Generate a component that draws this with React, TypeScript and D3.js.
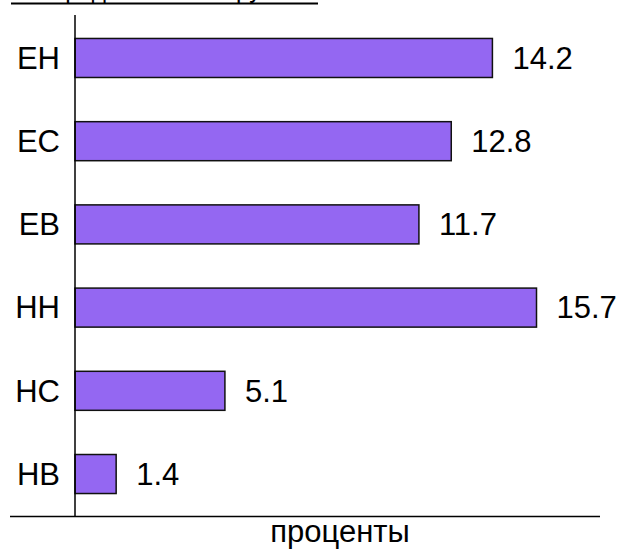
import React, { useEffect, useRef } from "react";
import * as d3 from "d3";

const categories = ["ЕН", "ЕС", "ЕВ", "НН", "НС", "НВ"];
const values = [14.2, 12.8, 11.7, 15.7, 5.1, 1.4];
const valueLabels = ["14.2", "12.8", "11.7", "15.7", "5.1", "1.4"];
const titleText = "Распределение по группам";
const xTitle = "проценты";

export default function App() {
  const ref = useRef<SVGSVGElement>(null);

  useEffect(() => {
    const width = 618;
    const height = 549;
    const svg = d3.select(ref.current);
    svg.selectAll("*").remove();
    svg.attr("width", width).attr("height", height);

    const font = "Liberation Sans, Arial, sans-serif";
    const fs = "31px";
    const x = d3.scaleLinear().domain([0, 17.86]).range([75, 600]);
    const y = d3
      .scaleBand<string>()
      .domain(categories)
      .range([16, 516])
      .paddingInner(0.531)
      .paddingOuter(0.27);

    // title, cut off at the top edge like in the source image
    svg
      .append("text")
      .attr("x", 11)
      .attr("y", -3)
      .attr("textLength", 307)
      .attr("lengthAdjust", "spacingAndGlyphs")
      .style("font-family", font)
      .style("font-size", "28px")
      .attr("fill", "#000")
      .text(titleText);
    svg
      .append("line")
      .attr("x1", 11)
      .attr("x2", 318)
      .attr("y1", 3.5)
      .attr("y2", 3.5)
      .attr("stroke", "#000")
      .attr("stroke-width", 2);

    // bars
    svg
      .selectAll(".bar")
      .data(values)
      .enter()
      .append("rect")
      .attr("x", x(0))
      .attr("y", (_, i) => y(categories[i]) ?? 0)
      .attr("width", (d) => x(d) - x(0))
      .attr("height", y.bandwidth())
      .attr("fill", "#9467f2")
      .attr("stroke", "#111")
      .attr("stroke-width", 1.5);

    // value labels
    svg
      .selectAll(".val")
      .data(values)
      .enter()
      .append("text")
      .attr("x", (d) => x(d) + 20)
      .attr("y", (_, i) => (y(categories[i]) ?? 0) + y.bandwidth() / 2)
      .attr("dy", "0.35em")
      .style("font-family", font)
      .style("font-size", fs)
      .attr("fill", "#000")
      .text((_, i) => valueLabels[i]);

    // category labels
    svg
      .selectAll(".cat")
      .data(categories)
      .enter()
      .append("text")
      .attr("x", 60)
      .attr("y", (d) => (y(d) ?? 0) + y.bandwidth() / 2)
      .attr("dy", "0.35em")
      .attr("text-anchor", "end")
      .style("font-family", font)
      .style("font-size", fs)
      .attr("fill", "#000")
      .text((d) => d);

    // axes
    svg
      .append("line")
      .attr("x1", x(0))
      .attr("x2", x(0))
      .attr("y1", 15)
      .attr("y2", 517)
      .attr("stroke", "#000")
      .attr("stroke-width", 1.5);
    svg
      .append("line")
      .attr("x1", 10)
      .attr("x2", 600)
      .attr("y1", 516.5)
      .attr("y2", 516.5)
      .attr("stroke", "#000")
      .attr("stroke-width", 1.5);

    svg
      .append("text")
      .attr("x", 340)
      .attr("y", 542)
      .attr("text-anchor", "middle")
      .style("font-family", font)
      .style("font-size", fs)
      .attr("fill", "#000")
      .text(xTitle);
  }, []);

  return (
    <div style={{ position: "absolute", left: 0, top: 0, background: "#fff" }}>
      <svg ref={ref} style={{ display: "block" }}></svg>
    </div>
  );
}
